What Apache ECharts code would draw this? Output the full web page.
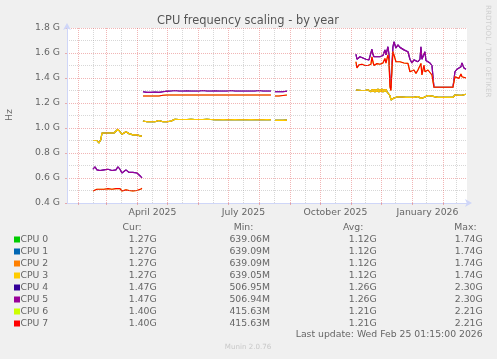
<!DOCTYPE html>
<html><head><meta charset="utf-8">
<script src="https://cdn.jsdelivr.net/npm/echarts@6/dist/echarts.min.js"></script>
<style>html,body{margin:0;padding:0;background:#f0f0f0}#c{width:497px;height:359px}</style>
</head><body><div id="c"></div>
<script>
// ---------------- DATA ----------------
const xStart = '2025-01-21T01:15';
const xEnd = '2026-02-25T01:15';
const yMin = 0.4, yMax = 1.8, yStep = 0.2;
const xLabelDates = ['2025-04-16T12:00', '2025-07-16T12:00', '2025-10-16T12:00', '2026-01-16T12:00'];
const xLabelTexts = ['April 2025', 'July 2025', 'October 2025', 'January 2026'];
const monthStarts = ['2025-02-01','2025-03-01','2025-04-01','2025-05-01','2025-06-01','2025-07-01','2025-08-01','2025-09-01','2025-10-01','2025-11-01','2025-12-01','2026-01-01','2026-02-01'];
const midMonths = ['2025-02-16','2025-03-16','2025-04-16','2025-05-16','2025-06-16','2025-07-16','2025-08-16','2025-09-16','2025-10-16','2025-11-15','2025-12-15','2026-01-15','2026-02-14'];

// segment 1 (Feb - Apr 2025)
const seg1Dates = ['2025-02-16','2025-02-18','2025-02-20','2025-02-22','2025-02-23','2025-02-24','2025-02-25','2025-02-27','2025-03-01','2025-03-03','2025-03-05','2025-03-07','2025-03-09','2025-03-11','2025-03-13','2025-03-15','2025-03-17','2025-03-19','2025-03-21','2025-03-22','2025-03-24','2025-03-26','2025-03-28','2025-03-30','2025-04-01','2025-04-03','2025-04-05','2025-04-06'];
const seg1Cpu03 = [0.90,0.89,0.90,0.88,0.87,0.91,0.96,0.965,0.96,0.965,0.96,0.965,0.96,0.965,0.99,0.97,0.95,0.955,0.97,0.98,0.955,0.945,0.945,0.94,0.945,0.94,0.935,0.935];
const seg1Cpu45 = [0.67,0.69,0.665,0.67,0.66,0.665,0.66,0.665,0.66,0.67,0.665,0.66,0.665,0.665,0.69,0.67,0.64,0.655,0.665,0.67,0.645,0.64,0.645,0.64,0.64,0.635,0.61,0.60];
const seg1Cpu67 = [0.496,0.50,0.51,0.505,0.51,0.51,0.515,0.51,0.51,0.515,0.51,0.51,0.51,0.515,0.53,0.515,0.496,0.50,0.505,0.512,0.50,0.50,0.497,0.50,0.50,0.505,0.512,0.517];

// segment 2 (Apr - Aug 2025)
const seg2Dates = ['2025-04-07','2025-04-11','2025-04-15','2025-04-19','2025-04-23','2025-04-27','2025-05-01','2025-05-05','2025-05-09','2025-05-13','2025-05-17','2025-05-21','2025-05-25','2025-05-29','2025-06-02','2025-06-06','2025-06-10','2025-06-14','2025-06-18','2025-06-22','2025-06-26','2025-06-30','2025-07-04','2025-07-08','2025-07-12','2025-07-16','2025-07-20','2025-07-24','2025-07-28','2025-08-01','2025-08-05','2025-08-09','2025-08-13','2025-08-15','2025-08-17','2025-08-21','2025-08-25','2025-08-29'];
const seg2Cpu03 = [1.056,1.05,1.05,1.05,1.06,1.05,1.05,1.055,1.07,1.068,1.068,1.068,1.07,1.068,1.068,1.068,1.07,1.068,1.066,1.066,1.068,1.066,1.066,1.068,1.066,1.066,1.066,1.068,1.066,1.066,1.066,1.068,1.066,null,1.061,1.061,1.061,1.063];
const seg2Cpu45 = [1.29,1.285,1.285,1.288,1.285,1.29,1.295,1.296,1.30,1.296,1.296,1.298,1.296,1.296,1.296,1.30,1.296,1.296,1.298,1.296,1.296,1.296,1.30,1.296,1.296,1.296,1.296,1.296,1.296,1.30,1.296,1.296,1.296,null,1.29,1.29,1.29,1.295];
const seg2Cpu67 = [1.256,1.256,1.256,1.256,1.256,1.262,1.264,1.264,1.264,1.264,1.264,1.264,1.264,1.264,1.264,1.264,1.264,1.264,1.264,1.264,1.264,1.264,1.264,1.264,1.264,1.264,1.264,1.264,1.264,1.264,1.264,1.264,1.264,null,1.256,1.256,1.26,1.264];

// segment 3 (Nov 2025 - Feb 2026)
const seg3Dates = ['2025-11-06','2025-11-07','2025-11-08','2025-11-09','2025-11-10','2025-11-11','2025-11-12','2025-11-13','2025-11-14','2025-11-15','2025-11-16','2025-11-17','2025-11-18','2025-11-19','2025-11-20','2025-11-21','2025-11-22','2025-11-23','2025-11-24','2025-11-25','2025-11-26','2025-11-27','2025-11-28','2025-11-29','2025-11-30','2025-12-01','2025-12-02','2025-12-03','2025-12-04','2025-12-05','2025-12-06','2025-12-07','2025-12-08','2025-12-09','2025-12-10','2025-12-11','2025-12-12','2025-12-13','2025-12-14',
  '2025-12-16','2025-12-18','2025-12-20','2025-12-22','2025-12-24','2025-12-26','2025-12-28','2025-12-30','2026-01-01','2026-01-03','2026-01-05','2026-01-07','2026-01-09','2026-01-10','2026-01-11','2026-01-13','2026-01-14','2026-01-15','2026-01-17','2026-01-19','2026-01-21','2026-01-22','2026-01-23','2026-01-27','2026-01-31','2026-02-04','2026-02-08','2026-02-11','2026-02-13','2026-02-15','2026-02-17','2026-02-19','2026-02-20','2026-02-22','2026-02-24'];
const seg3Cpu03 = [1.304,1.30,1.30,1.302,1.302,1.30,1.30,1.298,1.298,1.30,1.30,1.296,1.305,1.292,1.308,1.29,1.31,1.29,1.31,1.288,1.31,1.29,1.312,1.288,1.31,1.29,1.312,1.288,1.31,1.29,1.31,1.29,1.30,1.28,1.26,1.225,1.222,1.235,1.24,
  1.245,1.25,1.25,1.248,1.245,1.245,1.245,1.245,1.25,1.245,1.245,1.252,1.237,1.237,1.24,1.245,1.25,1.255,1.26,1.264,1.255,1.25,1.248,1.245,1.245,1.245,1.245,1.245,1.264,1.262,1.262,1.26,1.262,1.262,1.27];
const seg3Cpu45 = [1.59,1.55,1.545,1.56,1.57,1.565,1.565,1.56,1.56,1.555,1.55,1.55,1.55,1.545,1.545,1.56,1.63,1.59,1.57,1.575,1.575,1.57,1.575,1.575,1.57,1.575,1.575,1.58,1.58,1.625,1.585,1.59,1.65,1.59,1.36,1.32,1.50,1.65,1.69,
  1.64,1.665,1.645,1.64,1.625,1.64,1.61,1.55,1.52,1.545,1.54,1.53,1.55,1.65,1.55,1.555,1.61,1.54,1.53,1.52,1.50,1.49,1.326,1.326,1.326,1.326,1.326,1.326,1.45,1.47,1.475,1.49,1.52,1.48,1.47];
const seg3Cpu67 = [1.53,1.48,1.49,1.505,1.517,1.51,1.51,1.505,1.50,1.50,1.496,1.50,1.50,1.496,1.496,1.51,1.57,1.53,1.50,1.505,1.51,1.515,1.517,1.515,1.51,1.515,1.52,1.52,1.52,1.557,1.52,1.53,1.585,1.545,1.33,1.30,1.47,1.61,1.585,
  1.53,1.535,1.53,1.525,1.52,1.525,1.517,1.45,1.437,1.464,1.437,1.464,1.45,1.517,1.424,1.504,1.45,1.437,1.464,1.45,1.424,1.42,1.326,1.326,1.326,1.326,1.326,1.326,1.41,1.40,1.397,1.432,1.41,1.397,1.40];

const cpuNames = ['CPU 0','CPU 1','CPU 2','CPU 3','CPU 4','CPU 5','CPU 6','CPU 7'];
const cpuColors = ['#00cc00','#0066b3','#ff8000','#ffcc00','#330099','#990099','#ccff00','#ff0000'];
const cpuGroup = ['g03','g03','g03','g03','g45','g45','g67','g67'];
const curVals = ['1.27G','1.27G','1.27G','1.27G','1.47G','1.47G','1.40G','1.40G'];
const minVals = ['639.06M','639.09M','639.09M','639.05M','506.95M','506.94M','415.63M','415.63M'];
const avgVals = ['1.12G','1.12G','1.12G','1.12G','1.26G','1.26G','1.21G','1.21G'];
const maxVals = ['1.74G','1.74G','1.74G','1.74G','2.30G','2.30G','2.21G','2.21G'];
const lastUpdate = 'Last update: Wed Feb 25 01:15:00 2026';

// ---------------- BUILD ----------------
const T = s => +new Date(s.length === 10 ? s + 'T00:00' : s);
const segments = [
  {d: seg1Dates, g03: seg1Cpu03, g45: seg1Cpu45, g67: seg1Cpu67},
  {d: seg2Dates, g03: seg2Cpu03, g45: seg2Cpu45, g67: seg2Cpu67},
  {d: seg3Dates, g03: seg3Cpu03, g45: seg3Cpu45, g67: seg3Cpu67}
];
function groupData(g) {
  const out = [];
  segments.forEach((s, si) => {
    if (si > 0) out.push([(T(s.d[0]) + T(segments[si-1].d[segments[si-1].d.length-1])) / 2, null]);
    s.d.forEach((d, i) => out.push([T(d), s[g][i]]));
  });
  return out;
}
const majorTs = monthStarts.map(T);
const minorTs = midMonths.map(T);
const labelTs = xLabelDates.map(T);

const FONT = 'DejaVu Sans';
const TXT = '#666666';
const MGRID = 'rgba(222,79,79,0.42)';
const GRID = 'rgba(150,150,150,0.38)';
const AXIS = '#CFD6F8';

const series = cpuNames.map((n, i) => ({
  type: 'line', name: n, data: groupData(cpuGroup[i]), showSymbol: false, symbol: 'none',
  lineStyle: {width: 1.2, color: cpuColors[i]}, itemStyle: {color: cpuColors[i]},
  connectNulls: false, animation: false, z: 3
}));

const graphic = [];
graphic.push({type: 'text', x: 248, y: 21.5, style: {text: 'CPU frequency scaling - by year', font: '11.4px ' + FONT, fill: '#555', align: 'center', verticalAlign: 'middle'}});
graphic.push({type: 'text', x: 10, y: 115, rotation: Math.PI / 2, style: {text: 'Hz', font: '9.3px ' + FONT, fill: TXT, align: 'center', verticalAlign: 'middle'}});
graphic.push({type: 'text', x: 488, y: 5, rotation: -Math.PI / 2, style: {text: 'RRDTOOL / TOBI OETIKER', font: '7.2px ' + FONT, fill: '#d0d0d0', align: 'left', verticalAlign: 'middle'}});
const hdrY = 227.5;
[['Cur:', 141.7], ['Min:', 253.3], ['Avg:', 363.3], ['Max:', 476.7]].forEach(h => {
  graphic.push({type: 'text', x: h[1], y: hdrY, style: {text: h[0], font: '9.3px ' + FONT, fill: TXT, align: 'right', verticalAlign: 'middle'}});
});
cpuNames.forEach((n, i) => {
  const y = 239.5 + 12 * i;
  graphic.push({type: 'rect', shape: {x: 14, y: y - 3, width: 6, height: 6}, style: {fill: cpuColors[i]}});
  graphic.push({type: 'text', x: 20.5, y: y, style: {text: n, font: '9.3px ' + FONT, fill: TXT, align: 'left', verticalAlign: 'middle'}});
  [[curVals, 156.7], [minVals, 270], [avgVals, 376.7], [maxVals, 482.7]].forEach(c => {
    graphic.push({type: 'text', x: c[1], y: y, style: {text: c[0][i], font: '9.3px ' + FONT, fill: TXT, align: 'right', verticalAlign: 'middle'}});
  });
});
graphic.push({type: 'text', x: 482.7, y: 335, style: {text: lastUpdate, font: '9.3px ' + FONT, fill: TXT, align: 'right', verticalAlign: 'middle'}});
graphic.push({type: 'text', x: 248, y: 346.7, style: {text: 'Munin 2.0.76', font: '7.1px ' + FONT, fill: '#c8c8c8', align: 'center', verticalAlign: 'middle'}});

const chart = echarts.init(document.getElementById('c'), null, {renderer: 'canvas'});
chart.setOption({
  backgroundColor: '#f0f0f0',
  animation: false,
  grid: {left: 67, top: 28, width: 400, height: 175, show: true, backgroundColor: '#ffffff', borderWidth: 0, containLabel: false},
  xAxis: [{
    type: 'value', min: T(xStart), max: T(xEnd), position: 'bottom',
    axisLine: {show: true, onZero: false, lineStyle: {color: AXIS, width: 1}, symbol: ['none', 'arrow'], symbolSize: [6, 7], symbolOffset: [0, 5]},
    axisTick: {show: true, customValues: majorTs, length: 2, lineStyle: {color: MGRID}},
    axisLabel: {customValues: labelTs, formatter: v => xLabelTexts[labelTs.indexOf(v)] || '', color: TXT, fontSize: 9.3, fontFamily: FONT, margin: 5, hideOverlap: false},
    splitLine: {show: true, lineStyle: {color: MGRID, width: 1, type: [1, 1]}},
    z: 4
  }, {
    type: 'value', min: T(xStart), max: T(xEnd), position: 'top',
    axisLine: {show: false}, axisLabel: {show: false},
    axisTick: {show: false, customValues: minorTs},
    splitLine: {show: true, lineStyle: {color: GRID, width: 1, type: [1, 1]}}
  }],
  yAxis: {
    type: 'value', min: yMin, max: yMax, interval: yStep,
    axisLine: {show: true, lineStyle: {color: AXIS, width: 1}, symbol: ['none', 'arrow'], symbolSize: [6, 7], symbolOffset: [0, 5]},
    axisTick: {show: true, length: 2, lineStyle: {color: MGRID}},
    axisLabel: {formatter: v => v.toFixed(1) + ' G', color: TXT, fontSize: 9.3, fontFamily: FONT, margin: 7},
    splitLine: {show: true, lineStyle: {color: MGRID, width: 1, type: [1, 1]}},
    minorTick: {show: false, splitNumber: 2},
    minorSplitLine: {show: true, lineStyle: {color: GRID, width: 1, type: [1, 1]}},
    z: 4
  },
  series: series,
  graphic: graphic
});
</script></body></html>
